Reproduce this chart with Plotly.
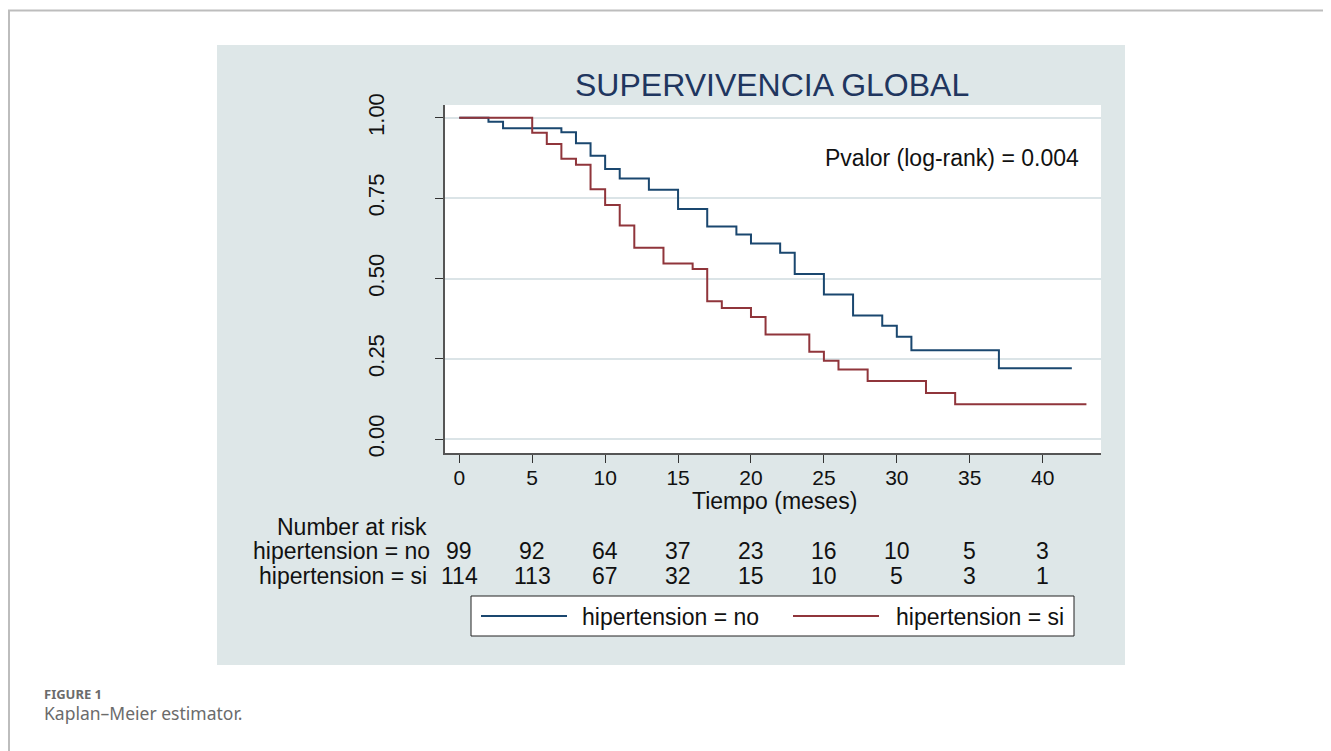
import plotly.graph_objects as go

# ---------------- data ----------------
time_no = [0, 2, 3, 7, 8, 9, 10, 11, 13, 15, 17, 19, 20, 22, 23, 25, 27, 29, 30, 31, 37, 42]
surv_no = [1.0, 0.988, 0.968, 0.955, 0.921, 0.882, 0.841, 0.811, 0.776, 0.716, 0.662, 0.637,
           0.609, 0.580, 0.514, 0.450, 0.385, 0.353, 0.319, 0.277, 0.221, 0.221]

time_si = [0, 5, 6, 7, 8, 9, 10, 11, 12, 14, 16, 17, 18, 20, 21, 24, 25, 26, 28, 32, 34, 43]
surv_si = [1.0, 0.954, 0.919, 0.873, 0.854, 0.778, 0.729, 0.665, 0.596, 0.547, 0.530, 0.429,
           0.408, 0.380, 0.326, 0.272, 0.244, 0.217, 0.181, 0.144, 0.109, 0.109]

risk_times = [0, 5, 10, 15, 20, 25, 30, 35, 40]
risk_no = [99, 92, 64, 37, 23, 16, 10, 5, 3]
risk_si = [114, 113, 67, 32, 15, 10, 5, 3, 1]

x_ticks = [0, 5, 10, 15, 20, 25, 30, 35, 40]
y_ticks = [0, 0.25, 0.5, 0.75, 1.0]
y_tick_labels = ["0.00", "0.25", "0.50", "0.75", "1.00"]

series_names = ["hipertension = no", "hipertension = si"]
title_text = "SUPERVIVENCIA GLOBAL"
pvalue_text = "Pvalor (log-rank) = 0.004"
x_title = "Tiempo (meses)"
risk_header = "Number at risk"
caption_label = "FIGURE 1"
caption_text = "Kaplan\u2013Meier estimator."

# ---------------- style ----------------
BLUE = "#1a476f"
RED = "#90353b"
PANEL = "#dee7e8"
GRID = "#dbe4e7"
FONT = "Liberation Sans, Arial, sans-serif"
W, H = 1331, 751
OFF = 8  # page body margin
# plot area in screen pixels: x 445..1101, y 105..453
SX0, SX1, SY0, SY1 = 445, 1101, 105, 453
L = SX0 - OFF
T = SY0 - OFF
R = W - (SX1 - OFF)
B = H - (SY1 - OFF)
PW, PH = SX1 - SX0, SY1 - SY0


def px(xs):
    return (xs - SX0) / PW


def py(ys):
    return (SY1 - ys) / PH


fig = go.Figure()
fig.add_trace(go.Scatter(x=time_no, y=surv_no, mode="lines", line=dict(color=BLUE, width=2, shape="hv"),
                         name=series_names[0], showlegend=False))
fig.add_trace(go.Scatter(x=time_si, y=surv_si, mode="lines", line=dict(color=RED, width=2, shape="hv"),
                         name=series_names[1], showlegend=False))

shapes = [
    dict(type="rect", xref="paper", yref="paper", x0=px(217), x1=px(1125), y0=py(665), y1=py(45),
         fillcolor=PANEL, line=dict(width=0), layer="below"),
    dict(type="rect", xref="paper", yref="paper", x0=0, x1=1, y0=0, y1=1,
         fillcolor="white", line=dict(width=0), layer="below"),
    dict(type="line", xref="paper", yref="paper", x0=px(8), x1=px(1345), y0=py(10.5), y1=py(10.5),
         line=dict(color="#bdbdbd", width=2)),
    dict(type="line", xref="paper", yref="paper", x0=px(9), x1=px(9), y0=py(10), y1=py(770),
         line=dict(color="#bdbdbd", width=2)),
    dict(type="rect", xref="paper", yref="paper", x0=px(471), x1=px(1074), y0=py(636), y1=py(596),
         fillcolor="white", line=dict(color="#222", width=1)),
    dict(type="line", xref="paper", yref="paper", x0=px(481), x1=px(567), y0=py(616), y1=py(616),
         line=dict(color=BLUE, width=2)),
    dict(type="line", xref="paper", yref="paper", x0=px(793), x1=px(879), y0=py(616), y1=py(616),
         line=dict(color=RED, width=2)),
]

TXT = "#111"
ann = []


def add_text(text, x, y, size, xanchor="center", color=TXT, family=FONT, xref="paper"):
    ann.append(dict(text=text, xref=xref, yref="paper", x=x, y=y, showarrow=False,
                    xanchor=xanchor, yanchor="middle", font=dict(family=family, size=size, color=color)))


add_text(title_text, px(771.5), py(85), 32, color="#1f365f")
add_text(pvalue_text, px(1081), py(158), 23, xanchor="right")
add_text(x_title, px(774), py(501), 23)
add_text(risk_header, px(429), py(527), 23, xanchor="right")
add_text(series_names[0], px(432), py(551), 23, xanchor="right")
add_text(series_names[1], px(429), py(576), 23, xanchor="right")
for t, n in zip(risk_times, risk_no):
    add_text(str(n), t, py(551), 23, xref="x")
for t, n in zip(risk_times, risk_si):
    add_text(str(n), t, py(576), 23, xref="x")
add_text(series_names[0], px(580), py(617), 23, xanchor="left")
add_text(series_names[1], px(894), py(617), 23, xanchor="left")
add_text("<b>" + caption_label + "</b>", px(42), py(693.5), 13, xanchor="left",
         color="#6b6b6b", family="Noto Sans, sans-serif")
add_text(caption_text, px(42), py(712.5), 17.5, xanchor="left",
         color="#6b6b6b", family="Noto Sans, sans-serif")

fig.update_layout(
    width=W, height=H,
    margin=dict(l=L, r=R, t=T, b=B, pad=0),
    paper_bgcolor="white", plot_bgcolor="white",
    showlegend=False,
    shapes=shapes, annotations=ann,
    font=dict(family=FONT, color=TXT),
)
fig.update_xaxes(range=[-0.98, 44.0], tickvals=x_ticks, ticks="outside", ticklen=8, tickwidth=1.2,
                 tickcolor="#333", showgrid=False, zeroline=False, showline=True, linecolor="#555",
                 linewidth=1.5, tickfont=dict(family=FONT, size=21, color=TXT), ticklabelstandoff=-3)
fig.update_yaxes(range=[-0.043, 1.040], tickvals=y_ticks, ticktext=y_tick_labels, tickangle=-90,
                 ticks="outside", ticklen=8, tickwidth=1.2, tickcolor="#333", showgrid=True,
                 gridcolor=GRID, gridwidth=2, zeroline=False, showline=True, linecolor="#555",
                 linewidth=1.5, tickfont=dict(family=FONT, size=22, color=TXT), ticklabelstandoff=42)

fig.write_html("out.html")
